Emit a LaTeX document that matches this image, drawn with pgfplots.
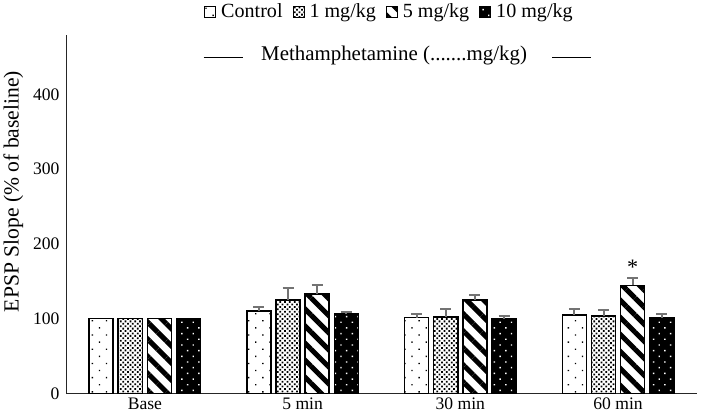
\documentclass[border=0pt]{standalone}
\usepackage{fontspec}
\setmainfont{Liberation Serif}
\usepackage{pgfplots}
\usepackage{pgfplotstable}
\pgfplotsset{compat=1.18}
\usetikzlibrary{patterns.meta}

\pgfplotstableread{
x ctl ctle m1 m1e m5 m5e m10 m10e
0 100 0 100 0 100 0 100 0
1 110 5.5 125 16 133 12.5 106 2.5
2 101.5 5 102.5 10.5 125 7 99.3 4.5
3 105 8 103.5 7.5 144.5 9.5 101.5 4.5
}\datatable

\pgfplotsset{
  mylegend/.style={legend image code/.code={\draw[##1, line width=0.8pt] (0pt,-5.5pt) rectangle (11pt,5.5pt);}},
  errstyle/.style={draw=none, fill=none, forget plot,
    skip coords between index={0}{1},
    error bars/.cd, y dir=plus, y explicit, error mark=-,
    error bar style={draw=black!55, line width=2pt, solid},
    error mark options={rotate=90, draw=black!55, line width=2pt, mark size=5.5pt, solid}},
}

\begin{document}
\begin{tikzpicture}
\begin{axis}[
  scale only axis, width=628pt, height=357pt,
  ymin=0, ymax=480, xmin=-0.5, xmax=3.5,
  axis x line=bottom, axis y line=left,
  axis line style={-, line width=0.9pt, black!85},
  ytick={0,100,200,300,400},
  xtick={0,1,2,3}, xticklabels={Base,5 min,30 min,60 min},
  major tick length=0pt,
  tick label style={font=\fontsize{17.5}{19}\selectfont},
  /pgf/number format/assume math mode=true,
  yticklabel style={xshift=-3pt},
  xticklabel style={yshift=-1pt},
  ylabel={EPSP Slope (\% of baseline)},
  ylabel style={font=\fontsize{21.5}{23}\selectfont, at={(ticklabel cs:0.563)}, yshift=3pt},
  ybar, bar width=24pt,
  legend style={at={(0.5,1)}, anchor=south, yshift=11pt, xshift=8pt, draw=none,
    font=\fontsize{20}{22}\selectfont,
    /tikz/every even column/.append style={column sep=8pt},
    /tikz/every odd column/.append style={column sep=3pt}},
  legend columns=-1,
  clip=false,
]
\addplot[bar shift=-43.5pt, draw=black, line width=1.5pt, fill=white,
  postaction={pattern={Dots[distance=10pt, angle=45, radius=0.95pt]}, pattern color=black}, mylegend]
  table[x=x, y=ctl] {\datatable};
\addplot[bar shift=-14.5pt, draw=black, line width=1.5pt, fill=white,
  postaction={pattern={Dots[distance=3.4pt, angle=45, radius=1.25pt]}, pattern color=black}, mylegend]
  table[x=x, y=m1] {\datatable};
\addplot[bar shift=14.5pt, draw=black, line width=1.5pt, fill=white,
  postaction={pattern={Lines[distance=12pt, angle=-45, line width=5pt]}, pattern color=black}, mylegend]
  table[x=x, y=m5] {\datatable};
\addplot[bar shift=43.5pt, draw=black, line width=1.5pt, fill=black,
  postaction={pattern={Dots[distance=8pt, angle=45, radius=1pt]}, pattern color=white}, mylegend]
  table[x=x, y=m10] {\datatable};
\legend{Control, 1 mg/kg, 5 mg/kg, 10 mg/kg}

\addplot[bar shift=-43.5pt, errstyle] table[x=x, y=ctl, y error=ctle] {\datatable};
\addplot[bar shift=-14.5pt, errstyle] table[x=x, y=m1, y error=m1e] {\datatable};
\addplot[bar shift=14.5pt, errstyle] table[x=x, y=m5, y error=m5e] {\datatable};
\addplot[bar shift=43.5pt, errstyle] table[x=x, y=m10, y error=m10e] {\datatable};

\node[font=\fontsize{20.8}{22}\selectfont] at (axis cs:1.58,452) {Methamphetamine (.......mg/kg)};
\draw[line width=0.8pt] (axis cs:0.373,450) -- (axis cs:0.621,450);
\draw[line width=0.8pt] (axis cs:2.583,450) -- (axis cs:2.831,450);
\node[font=\fontsize{22}{24}\selectfont, xshift=14.5pt] at (axis cs:3,169) {*};
\coordinate (rm) at (rel axis cs:1,0);
\end{axis}
\path (rm) -- ++(12pt,0);
\end{tikzpicture}
\end{document}
